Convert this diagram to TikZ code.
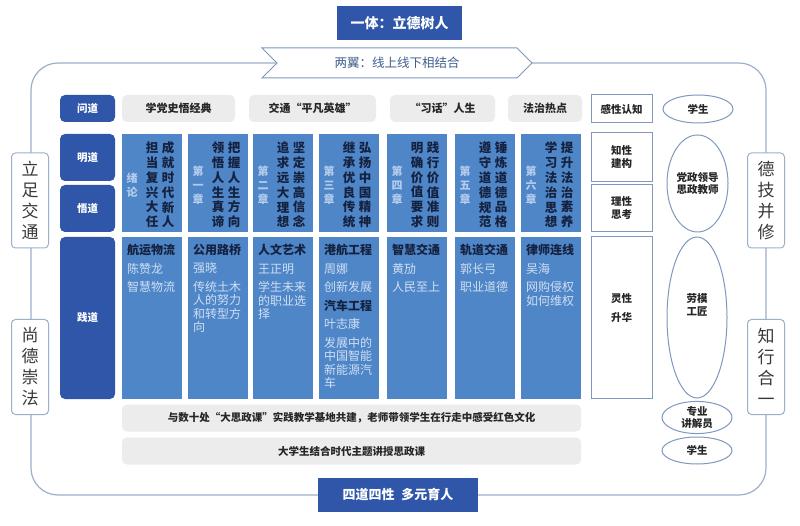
\documentclass[tikz,border=0pt]{standalone}
\usepackage{fontspec}
\setmainfont{Noto Sans CJK SC}
\usetikzlibrary{shapes.geometric,shapes.symbols}
\definecolor{dkblue}{HTML}{2F56A8}
\definecolor{mdblue}{HTML}{4F86C8}
\definecolor{frameC}{HTML}{9DB0CB}
\definecolor{boxC}{HTML}{7F98BE}
\definecolor{grayF}{HTML}{ECECEC}
\definecolor{navyT}{HTML}{15223F}
\definecolor{lightT}{HTML}{CFDFF3}
\definecolor{chapT}{HTML}{B4CCEC}
\definecolor{ribT}{HTML}{3F5F8E}
\newcommand{\fsz}[2]{\fontsize{#1}{#2}\selectfont}
\newcommand{\hd}[1]{{\bfseries\color{navyT}#1}}
\tikzset{
  sidebox/.style={draw=frameC, fill=white, line width=1pt, rounded corners=4pt, minimum width=37pt, minimum height=95pt, inner sep=0pt, align=center, font=\fsz{17}{21}, text=black!78},
  rowlab/.style={fill=dkblue, rounded corners=5pt, text=white, font=\bfseries\fsz{10.5}{12}, inner sep=0pt, minimum width=55pt},
  graybox/.style={fill=grayF, rounded corners=5pt, font=\bfseries\fsz{11}{13}, text=black!85, inner sep=0pt, minimum height=27pt},
  bluecol/.style={fill=mdblue, minimum width=60pt, inner sep=0pt},
  vt/.style={font=\bfseries\fsz{12.5}{14.8}, text=navyT, align=center, inner sep=0pt},
  chap/.style={font=\bfseries\fsz{11}{14}, text=chapT, align=center, inner sep=0pt},
  bt/.style={anchor=north west, align=left, inner sep=0pt, font=\fsz{12}{13.5}, text=lightT},
  wbox/.style={draw=boxC, fill=white, line width=1pt, minimum width=61pt, inner sep=0pt, align=center, font=\bfseries\fsz{10.5}{13}, text=black!85},
  ell/.style={ellipse, draw=boxC, fill=white, line width=1pt, inner sep=0pt, align=center, font=\bfseries\fsz{10.5}{12.5}, text=black!85},
  intext/.style={inner sep=0pt, align=center, font=\bfseries\fsz{10.5}{12.5}, text=black!85},
  darkbox/.style={fill=dkblue, text=white, inner sep=0pt, minimum height=34pt}
}
\begin{document}
\begin{tikzpicture}[x=1pt,y=-1pt]
\useasboundingbox (0,0) rectangle (800,526);
\fill[white] (0,0) rectangle (800,526);
% frame
\draw[frameC, line width=1.2pt, rounded corners=27pt] (31,63) rectangle (766,495);
% title
\node[darkbox, minimum width=125pt, font=\bfseries\fsz{14}{16}] (title) at (399.5,23) {一体：立德树人};
% ribbon
\node[signal, signal to=east, signal from=west, signal pointer angle=90, draw=boxC, fill=white, line width=1pt, minimum width=270pt, minimum height=30pt, inner sep=0pt, font=\fsz{12.5}{14}, text=ribT] (wings) at (397,63) {两翼：线上线下相结合};
% bottom
\node[darkbox, minimum width=160pt, font=\bfseries\fsz{13}{15}] (bottom) at (398,495) {四道四性\hspace{7pt}多元育人};
% side boxes
\node[sidebox] (lz) at (30,200.5) {立\\足\\交\\通};
\node[sidebox] (sd) at (30,367) {尚\\德\\崇\\法};
\node[sidebox] (dj) at (766,200.5) {德\\技\\并\\修};
\node[sidebox] (zx) at (766,367) {知\\行\\合\\一};
% row labels
\node[rowlab, minimum height=27pt] (wen) at (87.5,108.5) {问道};
\node[rowlab, minimum height=47pt] (ming) at (87.5,157.5) {明道};
\node[rowlab, minimum height=47pt] (wu) at (87.5,208.5) {悟道};
\node[rowlab, minimum height=162pt] (jian) at (87.5,318) {践道};
% gray row 1
\node[graybox, minimum width=113pt] (g1) at (178.5,108.5) {学党史悟经典};
\node[graybox, minimum width=127pt] (g2) at (312.5,108.5) {交通“平凡英雄”};
\node[graybox, minimum width=105pt] (g3) at (442.5,108.5) {“习话”人生};
\node[graybox, minimum width=74pt] (g4) at (545,108.5) {法治热点};
% top blue columns
\node[bluecol, minimum height=98pt] (t1) at (152,183) {};
\node[bluecol, minimum height=98pt] (t2) at (218,183) {};
\node[bluecol, minimum height=98pt] (t3) at (283,183) {};
\node[bluecol, minimum height=98pt] (t4) at (349,183) {};
\node[bluecol, minimum height=98pt] (t5) at (417,183) {};
\node[bluecol, minimum height=98pt] (t6) at (485,183) {};
\node[bluecol, minimum height=98pt] (t7) at (551,183) {};
\node[vt] (t1a) at (168,185) {成\\就\\时\\代\\新\\人};
\node[vt] (t1b) at (152,185) {担\\当\\复\\兴\\大\\任};
\node[chap] (t1c) at (132,185) {绪\\论};
\node[vt] (t2a) at (234,185) {把\\握\\人\\生\\方\\向};
\node[vt] (t2b) at (218,185) {领\\悟\\人\\生\\真\\谛};
\node[chap] (t2c) at (198,185) {第\\一\\章};
\node[vt] (t3a) at (299,185) {坚\\定\\崇\\高\\信\\念};
\node[vt] (t3b) at (283,185) {追\\求\\远\\大\\理\\想};
\node[chap] (t3c) at (263,185) {第\\二\\章};
\node[vt] (t4a) at (365,185) {弘\\扬\\中\\国\\精\\神};
\node[vt] (t4b) at (349,185) {继\\承\\优\\良\\传\\统};
\node[chap] (t4c) at (329,185) {第\\三\\章};
\node[vt] (t5a) at (433,185) {践\\行\\价\\值\\准\\则};
\node[vt] (t5b) at (417,185) {明\\确\\价\\值\\要\\求};
\node[chap] (t5c) at (397,185) {第\\四\\章};
\node[vt] (t6a) at (501,185) {锤\\炼\\道\\德\\品\\格};
\node[vt] (t6b) at (485,185) {遵\\守\\道\\德\\规\\范};
\node[chap] (t6c) at (465,185) {第\\五\\章};
\node[vt] (t7a) at (567,185) {提\\升\\法\\治\\素\\养};
\node[vt] (t7b) at (551,185) {学\\习\\法\\治\\思\\想};
\node[chap] (t7c) at (531,185) {第\\六\\章};
% bottom blue columns
\node[bluecol, minimum height=162pt] (b1) at (152,318) {};
\node[bluecol, minimum height=162pt] (b2) at (218,318) {};
\node[bluecol, minimum height=162pt] (b3) at (283,318) {};
\node[bluecol, minimum height=162pt] (b4) at (349,318) {};
\node[bluecol, minimum height=162pt] (b5) at (417,318) {};
\node[bluecol, minimum height=162pt] (b6) at (485,318) {};
\node[bluecol, minimum height=162pt] (b7) at (551,318) {};
\node[bt] (b1t) at (127,244) {\hd{航运物流}\\[5pt]陈赞龙\\[5pt]智慧物流};
\node[bt] (b2t) at (193,244) {\hd{公用路桥}\\[5pt]强晓\\[5pt]传统土木\\人的努力\\和转型方\\向};
\node[bt] (b3t) at (258,244) {\hd{人文艺术}\\[5pt]王正明\\[5pt]学生未来\\的职业选\\择};
\node[bt] (b4t) at (324,244) {\hd{港航工程}\\[5pt]周娜\\[5pt]创新发展\\[5pt]\hd{汽车工程}\\[5pt]叶志康\\[5pt]发展中的\\中国智能\\新能源汽\\车};
\node[bt] (b5t) at (392,244) {\hd{智慧交通}\\[5pt]黄劢\\[5pt]人民至上};
\node[bt] (b6t) at (460,244) {\hd{轨道交通}\\[5pt]郭长弓\\[5pt]职业道德};
\node[bt] (b7t) at (526,244) {\hd{律师连线}\\[5pt]吴海\\[5pt]网购侵权\\如何维权};
% bottom gray bars
\node[graybox, minimum width=459pt, font=\bfseries\fsz{10.5}{13}] (bar1) at (351.5,418) {与数十处“大思政课”实践教学基地共建，老师带领学生在行走中感受红色文化};
\node[graybox, minimum width=459pt, font=\bfseries\fsz{10.5}{13}] (bar2) at (351.5,451) {大学生结合时代主题讲授思政课};
% right boxes
\node[wbox, minimum height=28pt] (r1) at (621.5,109) {感性认知};
\node[wbox, minimum height=49pt] (r2) at (621.5,157.5) {知性\\建构};
\node[wbox, minimum height=47pt] (r3) at (621.5,208.5) {理性\\思考};
\node[wbox, minimum height=161pt] (r4) at (621.5,317.5) {};
\node[intext] (r4t) at (621.5,308) {灵性\\[7pt]升华};
% ellipses
\node[ell, minimum width=70pt, minimum height=28pt] (e1) at (698,109) {学生};
\node[ell, minimum width=61pt, minimum height=97pt] (e2) at (697.5,183.5) {党政领导\\思政教师};
\node[ell, minimum width=60pt, minimum height=161pt] (e3) at (697,317.5) {};
\node[intext] (e3t) at (697,305) {劳模\\工匠};
\node[ell, minimum width=70pt, minimum height=29pt] (e4) at (697,417.5) {专业\\讲解员};
\node[ell, minimum width=70pt, minimum height=27pt] (e5) at (697,450.5) {学生};
\end{tikzpicture}
\end{document}
